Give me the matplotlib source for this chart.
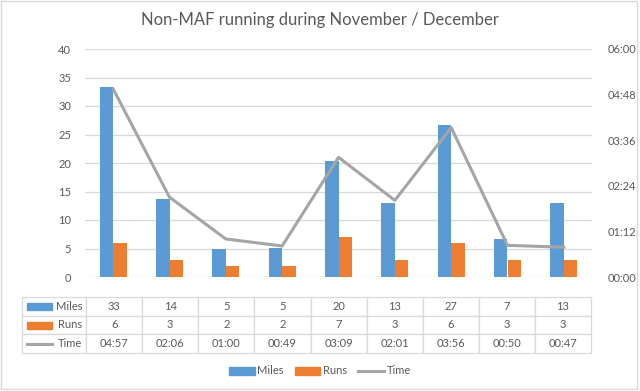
import matplotlib
matplotlib.use('Agg')
import matplotlib.pyplot as plt
from matplotlib.patches import Patch, Rectangle
from matplotlib.lines import Line2D
from matplotlib.ticker import MultipleLocator, FuncFormatter

plt.rcParams['font.family'] = ['Lato', 'DejaVu Sans']

# data
miles = [33.4, 13.6, 4.9, 5.1, 20.4, 12.9, 26.6, 6.7, 12.9]
runs = [6, 3, 2, 2, 7, 3, 6, 3, 3]
time_labels = ['04:57', '02:06', '01:00', '00:49', '03:09', '02:01', '03:56', '00:50', '00:47']
series_names = ['Miles', 'Runs', 'Time']

BLUE = '#5B9BD5'
ORANGE = '#ED7D31'
GRAY = '#A5A5A5'
TXT = '#595959'
GRID = '#D9D9D9'


def to_minutes(s):
    h, m = s.split(':')
    return int(h) * 60 + int(m)


def fmt_hhmm(v, pos=None):
    v = int(round(v))
    return '%02d:%02d' % (v // 60, v % 60)


time_min = [to_minutes(t) for t in time_labels]
x = list(range(len(miles)))

fig = plt.figure(figsize=(6.4, 3.91), dpi=100)
fig.patch.set_facecolor('white')
# chart border
fig.patches.append(Rectangle((0.002, 0.004), 0.993, 0.993, transform=fig.transFigure,
                             fill=False, edgecolor=GRID, lw=1.0))

W, H = 640., 391.
ax = fig.add_axes([85 / W, 114 / H, 507 / W, 228 / H])

# bars
bw = 0.24
ax.bar([i - bw / 2 for i in x], miles, width=bw, color=BLUE, zorder=2)
ax.bar([i + bw / 2 for i in x], runs, width=bw, color=ORANGE, zorder=2)
ax.set_xlim(-0.5, len(x) - 0.5)
ax.set_ylim(0, 40)
ax.yaxis.set_major_locator(MultipleLocator(5))
ax.grid(axis='y', color=GRID, lw=0.9)
ax.set_axisbelow(True)
ax.set_xticks([])
for s in ax.spines.values():
    s.set_visible(False)
ax.tick_params(axis='y', length=0, pad=10, labelsize=8, labelcolor=TXT)

# time line on right axis
ax2 = ax.twinx()
ax2.plot(x, time_min, color=GRAY, lw=2.2, zorder=3)
ax2.set_ylim(0, 360)
ax2.yaxis.set_major_locator(MultipleLocator(72))
ax2.yaxis.set_major_formatter(FuncFormatter(fmt_hhmm))
for s in ax2.spines.values():
    s.set_visible(False)
ax2.tick_params(axis='y', length=0, pad=11, labelsize=8, labelcolor=TXT)

# data table
rows = [
    ['Miles'] + ['%.0f' % v for v in miles],
    ['Runs'] + ['%d' % v for v in runs],
    ['Time'] + time_labels,
]
col_w = [64] + [56] * len(x)
tbl = ax.table(cellText=rows, colWidths=col_w, cellLoc='center',
               bbox=[(22 - 85) / 507., (277 - 353) / 228., (591 - 22) / 507., (353 - 297) / 228.])
tbl.auto_set_font_size(False)
tbl.set_fontsize(8)
for (r, c), cell in tbl.get_celld().items():
    cell.set_edgecolor(GRID)
    cell.set_linewidth(0.9)
    cell.get_text().set_color(TXT)
    if c == 0:
        cell._loc = 'right'
        cell.get_text().set_horizontalalignment('right')
        cell.PAD = 0.06

# legend keys inside the table's label column
row_mid = [306.5, 325.0, 343.5]
kx0 = (27 - 85) / 507.
kw = 25 / 507.
kh = 7 / 228.
for name, col, ym in zip(series_names, [BLUE, ORANGE, GRAY], row_mid):
    yc = (277 - ym) / 228.
    if name == 'Time':
        ax.add_line(Line2D([kx0, kx0 + kw], [yc, yc], color=col, lw=2.2,
                           transform=ax.transAxes, clip_on=False))
    else:
        ax.add_patch(Rectangle((kx0, yc - kh / 2), kw, kh, color=col,
                               transform=ax.transAxes, clip_on=False))

# bottom legend
handles = [Patch(color=BLUE, label='Miles'), Patch(color=ORANGE, label='Runs'),
           Line2D([], [], color=GRAY, lw=2.2, label='Time')]
fig.legend(handles=handles, loc='center', bbox_to_anchor=(320 / W, 1 - 371 / H), ncol=3,
           frameon=False, fontsize=8, handlelength=2.3, handletextpad=0.25,
           columnspacing=1.0, labelcolor=TXT)

fig.text(0.5, 1 - 20 / H, 'Non-MAF running during November / December',
         ha='center', va='center', fontsize=12, color=TXT)

fig.savefig('out.png', dpi=100)
